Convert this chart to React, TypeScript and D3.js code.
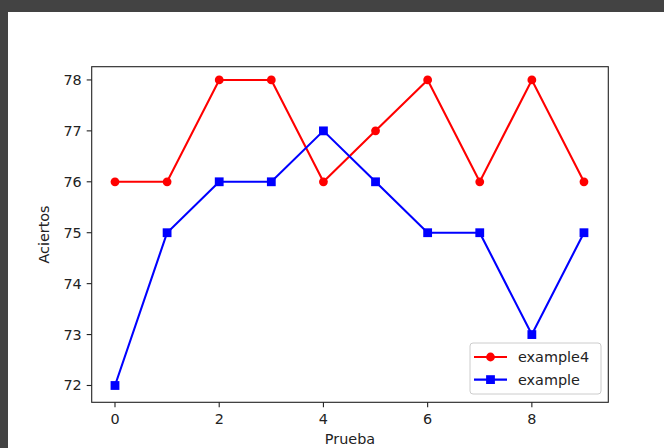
import React from 'react';
import * as d3 from 'd3';

const W = 664;
const H = 448;

const pruebas = [0, 1, 2, 3, 4, 5, 6, 7, 8, 9];
const example4 = [76, 76, 78, 78, 76, 77, 78, 76, 78, 76];
const example = [72, 75, 76, 76, 77, 76, 75, 75, 73, 75];
const xTicks = [0, 2, 4, 6, 8];
const yTicks = [72, 73, 74, 75, 76, 77, 78];

const font = "'DejaVu Sans', sans-serif";
const fs = 14.4;

// axes box in pixels
const left = 91.7, right = 608.3, top = 66.7, bottom = 402.3;

const App = () => {
  const x = d3.scaleLinear().domain([-0.447, 9.467]).range([left, right]);
  const y = d3.scaleLinear().domain([71.67, 78.26]).range([bottom, top]);

  const line = d3.line<number>()
    .x((d, i) => x(pruebas[i]))
    .y(d => y(d));

  const series = [
    { name: 'example4', values: example4, color: '#ff0000', marker: 'circle' },
    { name: 'example', values: example, color: '#0000ff', marker: 'square' },
  ];

  const marker = (m: string, cx: number, cy: number, color: string, key?: any) =>
    m === 'circle'
      ? <circle key={key} cx={cx} cy={cy} r={4.4} fill={color} />
      : <rect key={key} x={cx - 4.4} y={cy - 4.4} width={8.8} height={8.8} fill={color} />;

  // legend placement
  const lgX = 470, lgY = 343, lgW = 131, lgH = 51;

  return (
    <svg width={W} height={H} style={{ position: 'absolute', left: 0, top: 0 }} fontFamily={font}>
      <rect x={0} y={0} width={W} height={H} fill="#434343" />
      <rect x={8} y={12} width={W - 8} height={H - 12} fill="#ffffff" />

      {/* lines and markers */}
      {series.map(s => (
        <g key={s.name}>
          <path d={line(s.values) || ''} fill="none" stroke={s.color} strokeWidth={2.1} />
          {s.values.map((v, i) => marker(s.marker, x(pruebas[i]), y(v), s.color, i))}
        </g>
      ))}

      {/* spines */}
      <rect x={left} y={top} width={right - left} height={bottom - top} fill="none" stroke="#222" strokeWidth={1.1} />

      {/* x axis */}
      {xTicks.map(t => (
        <g key={t}>
          <line x1={x(t)} x2={x(t)} y1={bottom} y2={bottom + 5} stroke="#222" strokeWidth={1.1} />
          <text x={x(t)} y={bottom + 22} textAnchor="middle" fontSize={fs} fill="#222">{t}</text>
        </g>
      ))}
      <text x={(left + right) / 2} y={444} textAnchor="middle" fontSize={fs} fill="#222">Prueba</text>

      {/* y axis */}
      {yTicks.map(t => (
        <g key={t}>
          <line x1={left - 5} x2={left} y1={y(t)} y2={y(t)} stroke="#222" strokeWidth={1.1} />
          <text x={left - 10} y={y(t) + 5} textAnchor="end" fontSize={fs} fill="#222">{t}</text>
        </g>
      ))}
      <text transform={`translate(49,${(top + bottom) / 2}) rotate(-90)`} textAnchor="middle" fontSize={fs} fill="#222">Aciertos</text>

      {/* legend */}
      <rect x={lgX} y={lgY} width={lgW} height={lgH} rx={3} fill="#ffffff" fillOpacity={0.8} stroke="#cccccc" strokeWidth={1} />
      {series.map((s, i) => {
        const cy = lgY + 14 + i * 22.6;
        return (
          <g key={s.name}>
            <line x1={lgX + 4} x2={lgX + 37} y1={cy} y2={cy} stroke={s.color} strokeWidth={2.1} />
            {marker(s.marker, lgX + 20.5, cy, s.color)}
            <text x={lgX + 48} y={cy + 5} fontSize={fs} fill="#222">{s.name}</text>
          </g>
        );
      })}
    </svg>
  );
};

export default App;
